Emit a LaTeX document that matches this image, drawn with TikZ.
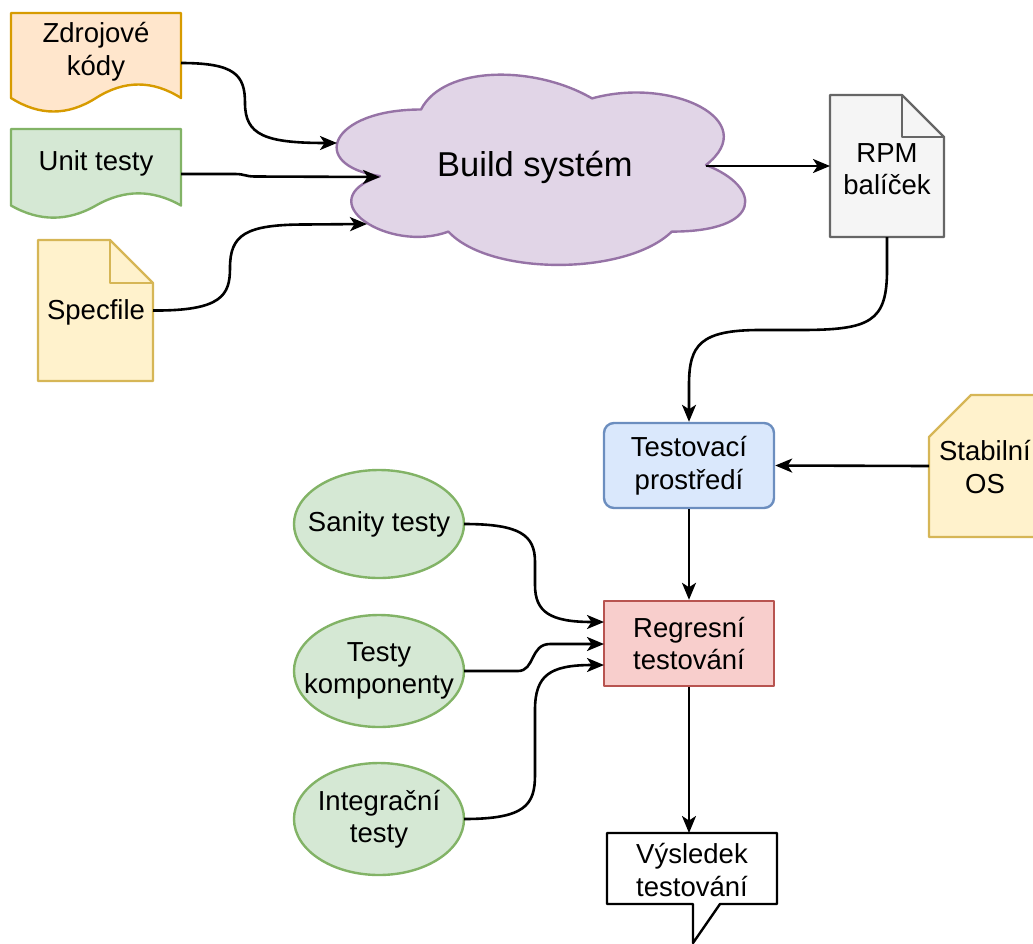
\documentclass[tikz,border=0pt]{standalone}
\usepackage{fontspec}
\setmainfont{Liberation Sans}
\usetikzlibrary{arrows.meta,calc}
\definecolor{orF}{HTML}{FFE6CC}\definecolor{orS}{HTML}{D79B00}
\definecolor{grF}{HTML}{D5E8D4}\definecolor{grS}{HTML}{82B366}
\definecolor{yeF}{HTML}{FFF2CC}\definecolor{yeS}{HTML}{D6B656}
\definecolor{puF}{HTML}{E1D5E7}\definecolor{puS}{HTML}{9673A6}
\definecolor{gyF}{HTML}{F5F5F5}\definecolor{gyS}{HTML}{666666}
\definecolor{blF}{HTML}{DAE8FC}\definecolor{blS}{HTML}{6C8EBF}
\definecolor{reF}{HTML}{F8CECC}\definecolor{reS}{HTML}{B85450}
\begin{document}
\begin{tikzpicture}[x=1pt,y=-1pt,
  lbl/.style={font=\fontsize{27.5}{32.5}\selectfont, align=center, inner sep=0pt},
  area/.style={inner sep=0pt, outer sep=0pt, minimum width=#1},
  shp/.style={line width=2.4pt, line join=round},
  arr/.style={line width=2.6pt, -{Stealth[length=17pt,width=14pt,inset=4.5pt]}}]
\useasboundingbox (0,0) rectangle (1033,943);

% ---------- Zdrojove kody (document) ----------
\draw[shp, draw=orS, fill=orF] (11,13) -- (181,13) -- (181,98)
  .. controls (152.67,80) and (124.33,80) .. (96,98)
  .. controls (67.67,116) and (39.33,116) .. (11,98) -- cycle;
\node[area=170pt, minimum height=100pt] (zdroj) at (96,63) {};
\node[lbl] (zdrojT) at (96,51.5) {Zdrojové\\kódy};

% ---------- Unit testy (document) ----------
\draw[shp, draw=grS, fill=grF] (11,129) -- (181,129) -- (181,205.5)
  .. controls (152.67,189.3) and (124.33,189.3) .. (96,205.5)
  .. controls (67.67,221.7) and (39.33,221.7) .. (11,205.5) -- cycle;
\node[area=170pt, minimum height=90pt] (unit) at (96,174) {};
\node[lbl] (unitT) at (96,163) {Unit testy};

% ---------- Specfile (note) ----------
\draw[shp, draw=yeS, fill=yeF] (38,240) -- (110,240) -- (153,283) -- (153,381) -- (38,381) -- cycle;
\draw[shp, draw=yeS] (110,240) -- (110,283) -- (153,283);
\node[area=115pt, minimum height=141pt] (spec) at (95.5,310.5) {};
\node[lbl] (specT) at (96,312) {Specfile};

% ---------- Build system (cloud) ----------
\draw[shp, draw=puS, fill=puF] (421,109.5)
  .. controls (329.8,109.5) and (307,165) .. (380,176.1)
  .. controls (307,200.5) and (389.1,253.8) .. (448.4,231.6)
  .. controls (489.4,276) and (626.2,276) .. (671.8,231.6)
  .. controls (763,231.6) and (763,187.2) .. (706,165)
  .. controls (763,120.6) and (671.8,76.2) .. (592,98.4)
  .. controls (535,65.1) and (443.8,65.1) .. (421,109.5) -- cycle;
\node[lbl, font=\fontsize{34.5}{40}\selectfont] (cloud) at (535,167) {Build systém};
\coordinate (cin1) at (337,143);
\coordinate (cin2) at (380,177);
\coordinate (cin3) at (367,224);
\coordinate (cout) at (706,166);

% ---------- RPM balicek (note) ----------
\draw[shp, draw=gyS, fill=gyF] (830,95) -- (902,95) -- (944,137) -- (944,237) -- (830,237) -- cycle;
\draw[shp, draw=gyS] (902,95) -- (902,137) -- (944,137);
\node[area=114pt, minimum height=142pt] (rpm) at (887,166) {};
\node[lbl] (rpmT) at (887,169) {RPM\\balíček};

% ---------- Testovaci prostredi ----------
\node[lbl, shp, draw=blS, fill=blF, rounded corners=10pt, minimum width=170pt, minimum height=85pt] (test) at (689,465.5) {Testovací\\prostředí};

% ---------- Stabilni OS (card) ----------
\draw[shp, draw=yeS, fill=yeF] (929,437) -- (971,395) -- (1043,395) -- (1043,537) -- (929,537) -- cycle;
\node[area=112pt, minimum height=142pt] (stab) at (985,466) {};
\node[lbl] (stabT) at (985,467) {Stabilní\\OS};

% ---------- Regresni testovani ----------
\node[lbl, shp, draw=reS, fill=reF, minimum width=170pt, minimum height=85pt] (reg) at (689,643.5) {Regresní\\testování};
\coordinate (rin1) at (604,622);
\coordinate (rin2) at (604,644);
\coordinate (rin3) at (604,665);

% ---------- ellipses ----------
\draw[shp, draw=grS, fill=grF] (379,524) ellipse [x radius=85, y radius=54];
\node[area=170pt, minimum height=108pt] (san) at (379,524) {};
\node[lbl] (sanT) at (379,524) {Sanity testy};
\draw[shp, draw=grS, fill=grF] (379,671) ellipse [x radius=85, y radius=56];
\node[area=170pt, minimum height=112pt] (komp) at (379,671) {};
\node[lbl] (kompT) at (379,671) {Testy\\komponenty};
\draw[shp, draw=grS, fill=grF] (379,819) ellipse [x radius=85, y radius=56];
\node[area=170pt, minimum height=112pt] (integ) at (379,819) {};
\node[lbl] (integT) at (379,819) {Integrační\\testy};

% ---------- Vysledek testovani (callout) ----------
\draw[shp, draw=black, fill=white] (607,833) -- (777,833) -- (777,904) -- (720,904) -- (693,943) -- (693,904) -- (607,904) -- cycle;
\node[area=170pt, minimum height=71pt] (call) at (692,868.5) {};
\node[lbl] (callT) at (692,870) {Výsledek\\testování};

% ---------- connectors ----------
\draw[arr] (zdroj.east) .. controls (235,63) and (245,75) .. (245,103)
  .. controls (245,135) and (265,143) .. (cin1);
\draw[arr] (unit.east) -- (235,174) .. controls (245,174) and (245,176.5) .. (255,176.5) -- (cin2);
\draw[arr] (spec.east) .. controls (222,311) and (230,295) .. (230,268)
  .. controls (230,235) and (245,224.5) .. (305,224.5) -- (cin3);
\draw[arr] (cout) -- (rpm.west);
\draw[arr] (rpm.south) -- (887,270) .. controls (887,322) and (870,330) .. (800,330)
  -- (760,330) .. controls (700,330) and (689,345) .. (689,385) -- (test.north);
\draw[arr] (stab.west) -- (test.east);
\draw[arr] (test.south) -- (reg.north);
\draw[arr] (san.east) .. controls (520,524) and (535,535) .. (535,562) -- (535,585)
  .. controls (535,612) and (550,622) .. (rin1);
\draw[arr] (komp.east) -- (518,671) .. controls (535,671) and (530,644) .. (550,644) -- (rin2);
\draw[arr] (integ.east) .. controls (525,819) and (535,805) .. (535,775) -- (535,710)
  .. controls (535,675) and (550,665) .. (rin3);
\draw[arr] (reg.south) -- (reg.south |- call.north);
\end{tikzpicture}
\end{document}
